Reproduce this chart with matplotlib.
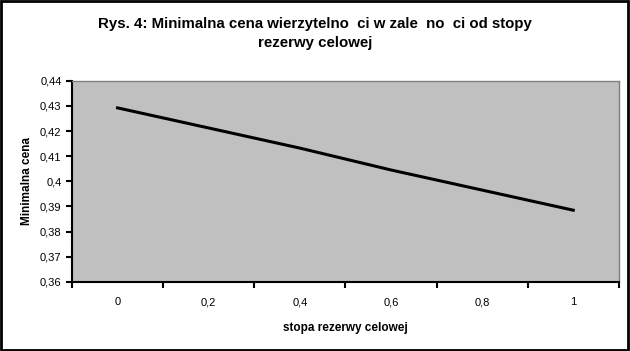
import matplotlib.pyplot as plt
import numpy as np

# chart data
categories = ["0", "0,2", "0,4", "0,6", "0,8", "1"]
min_price = [0.4292, 0.4212, 0.4132, 0.4045, 0.3965, 0.3885]
y_ticks = [0.36, 0.37, 0.38, 0.39, 0.40, 0.41, 0.42, 0.43, 0.44]
y_labels = ["0,36", "0,37", "0,38", "0,39", "0,4", "0,41", "0,42", "0,43", "0,44"]

plt.rcParams['font.family'] = ['Liberation Sans', 'DejaVu Sans']

fig = plt.figure(figsize=(6.3, 3.51), dpi=100)
# black frame round the whole chart
fig.patches.append(plt.Rectangle((0.002, 0.003), 0.995, 0.993, transform=fig.transFigure,
                                 fill=False, edgecolor="black", lw=2))

ax = fig.add_axes([0.1143, 0.197, 0.868, 0.573])
ax.set_facecolor("#C0C0C0")

x = np.arange(len(categories))
ax.plot(x, min_price, color="black", lw=2.2)

ax.set_xlim(-0.5, len(categories) - 0.5)
ax.set_ylim(0.36, 0.44)
ax.set_yticks(y_ticks)
ax.set_yticklabels(y_labels, fontsize=8)

# category axis: labels centred, ticks on boundaries
ax.set_xticks(x)
ax.set_xticklabels(categories, fontsize=8)
ax.tick_params(axis="x", which="major", length=0, pad=11)
ax.set_xticks(np.arange(-0.5, len(categories)), minor=True)
ax.tick_params(axis="x", which="minor", length=4, width=1.5, direction="out")
ax.tick_params(axis="y", length=4, width=1.5, direction="out")

for side in ["top", "right"]:
    ax.spines[side].set_color("#808080")
    ax.spines[side].set_linewidth(1)
for side in ["left", "bottom"]:
    ax.spines[side].set_color("black")
    ax.spines[side].set_linewidth(1.5)

ax.set_xlabel("stopa rezerwy celowej", fontsize=8.5, fontweight="bold", labelpad=11)
ax.set_ylabel("Minimalna cena", fontsize=8.5, fontweight="bold", labelpad=5)

fig.text(0.5, 0.905, "Rys. 4: Minimalna cena wierzytelno  ci w zale  no  ci od stopy\nrezerwy celowej",
         ha="center", va="center", fontsize=10.8, fontweight="bold", linespacing=1.45)

fig.savefig("out.png", dpi=100)
